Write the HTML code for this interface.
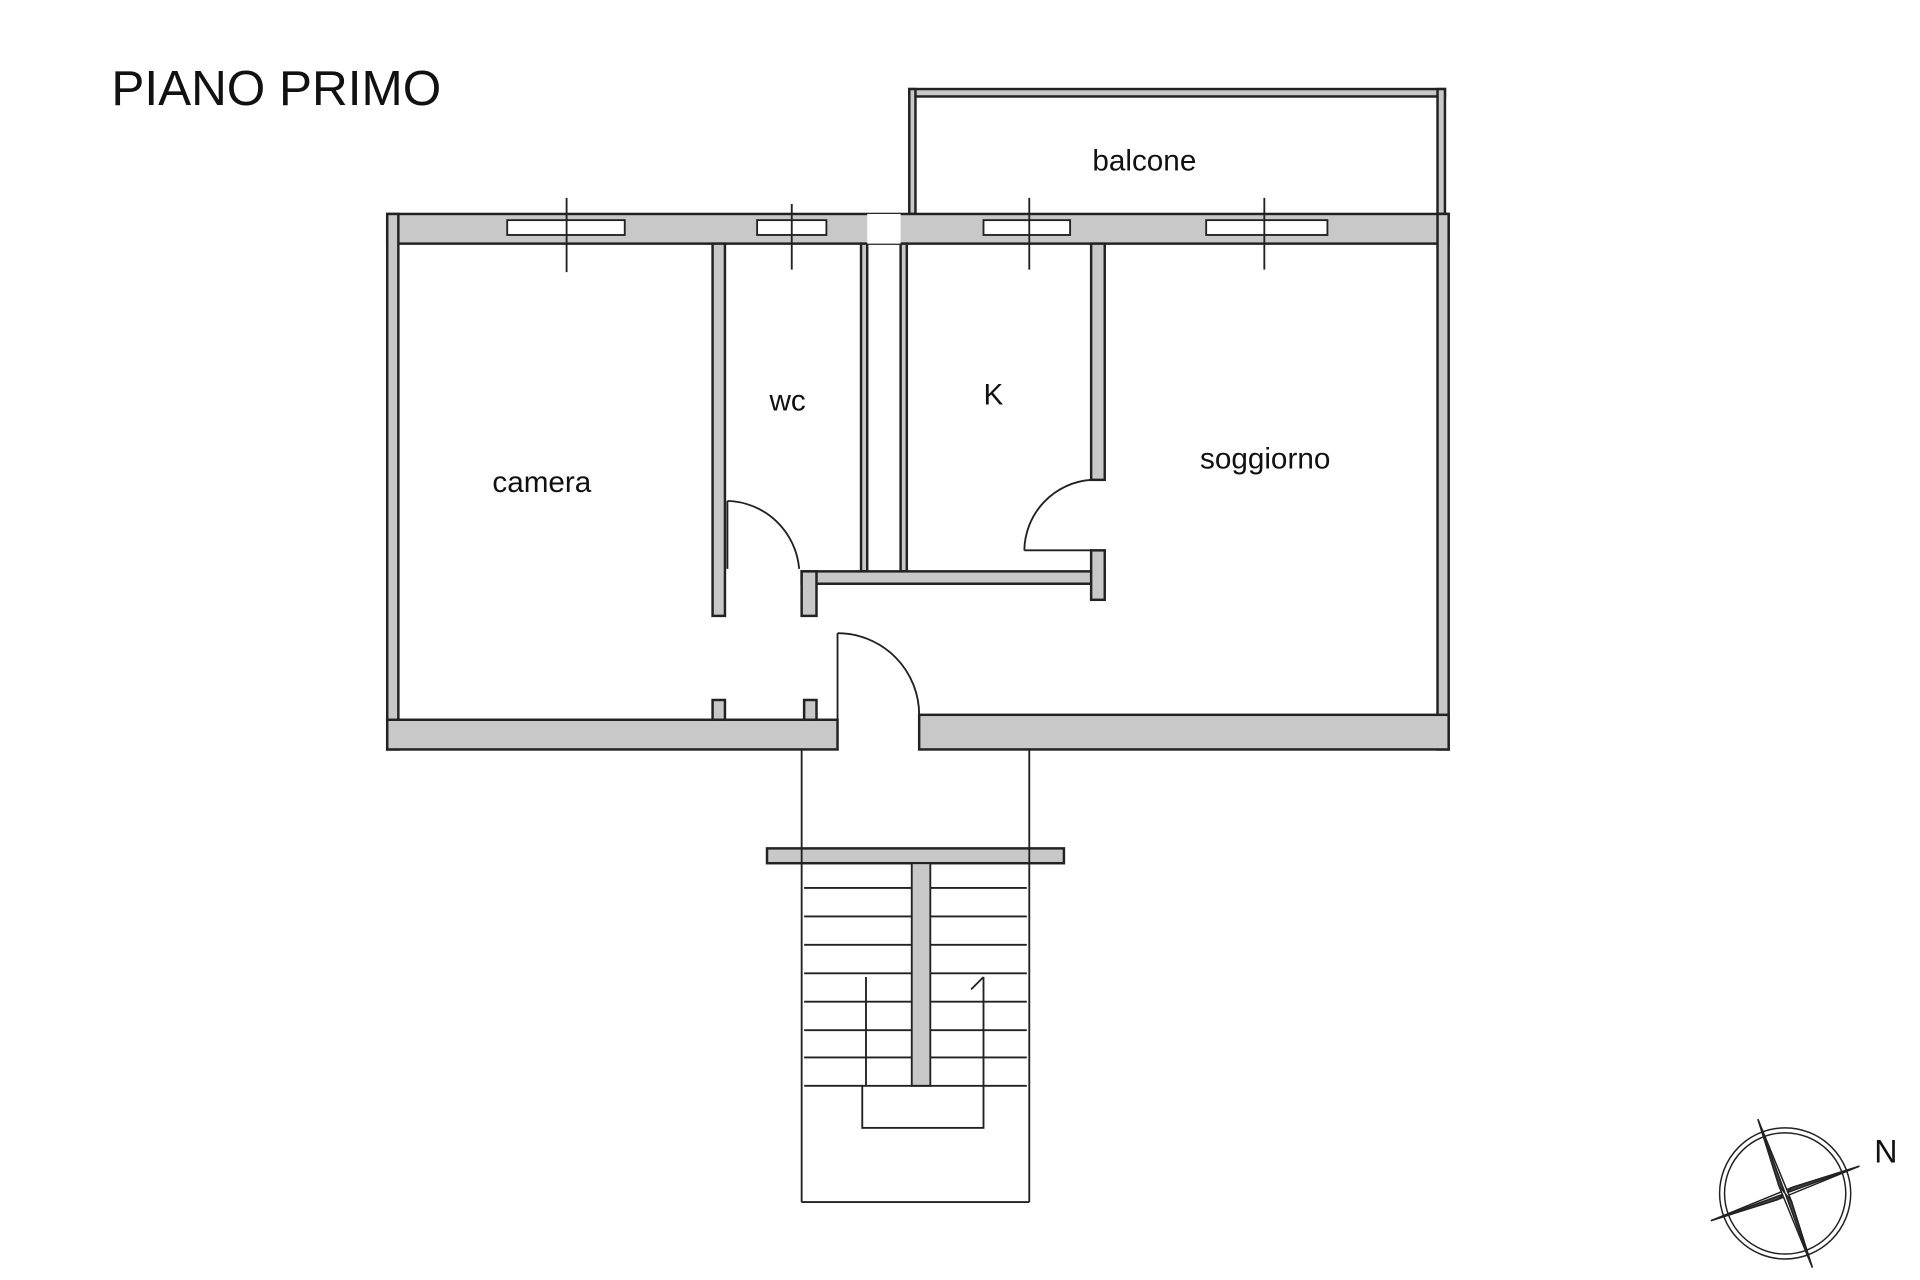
<!DOCTYPE html>
<html><head><meta charset="utf-8"><style>
html,body{margin:0;padding:0;background:#fff;}
svg{display:block;}
text{font-family:"Liberation Sans",sans-serif;fill:#111;}
</style></head><body>
<svg width="1920" height="1280" viewBox="0 0 1552 1035" preserveAspectRatio="none" xmlns="http://www.w3.org/2000/svg">
<rect width="1552" height="1035" fill="#fff"/>
<text x="90" y="85" font-size="40">PIANO PRIMO</text>
<g fill="#c8c8c8" stroke="#222" stroke-width="2">
<rect x="735" y="72" width="433" height="6"/>
<rect x="735" y="72" width="5" height="101"/>
<rect x="1162" y="72" width="6" height="101"/>
<rect x="313" y="173" width="858" height="24"/>
<rect x="313" y="173" width="9" height="433"/>
<rect x="1162" y="173" width="9" height="433"/>
<rect x="313" y="582" width="364" height="24"/>
<rect x="743" y="578" width="428" height="28"/>
<rect x="576" y="197" width="10" height="301"/>
<rect x="696" y="197" width="5" height="265"/>
<rect x="728" y="197" width="5" height="265"/>
<rect x="648" y="462" width="245" height="10"/>
<rect x="882" y="197" width="11" height="191"/>
<rect x="882" y="445" width="11" height="40"/>
<rect x="648" y="462" width="12" height="36"/>
<rect x="576" y="566" width="10" height="16"/>
<rect x="650" y="566" width="10" height="16"/>
<rect x="620" y="686" width="240" height="12"/>
</g>
<g fill="#fff" stroke="#222" stroke-width="1.5">
<rect x="410" y="178" width="95" height="12"/>
<rect x="612" y="178" width="56" height="12"/>
<rect x="795" y="178" width="70" height="12"/>
<rect x="975" y="178" width="98" height="12"/>
<rect x="701" y="173" width="27" height="24" stroke="none"/>
</g>
<g stroke="#222" stroke-width="1.5" fill="none">
<line x1="458" y1="160" x2="458" y2="220"/>
<line x1="640" y1="165" x2="640" y2="218"/>
<line x1="832" y1="160" x2="832" y2="218"/>
<line x1="1022" y1="160" x2="1022" y2="218"/>
<line x1="588" y1="405" x2="588" y2="460"/>
<path d="M588 405 A60 60 0 0 1 646 460"/>
<line x1="828" y1="445" x2="882" y2="445"/>
<path d="M828 445 A58 58 0 0 1 882 388"/>
<line x1="677" y1="512" x2="677" y2="600"/>
<path d="M677 512 A66 66 0 0 1 743 578"/>
<line x1="648" y1="606" x2="648" y2="972"/>
<line x1="832" y1="606" x2="832" y2="972"/>
<line x1="648" y1="972" x2="832" y2="972"/>
<rect x="737" y="698" width="15" height="180" fill="#c8c8c8"/>
<rect x="697" y="878" width="98" height="34"/>
<path d="M650 718H737M650 741H737M650 764H737M650 787H737M650 810H737M650 833H737M650 855H737M650 878H697"/>
<path d="M752 718H830M752 741H830M752 764H830M752 787H830M752 810H830M752 833H830M752 855H830M795 878H830"/>
<path d="M700 790V878M795 790V878M785 800L795 790"/>
</g>
<text x="883" y="138" font-size="24">balcone</text>
<text x="622" y="332" font-size="24">wc</text>
<text x="795" y="327" font-size="24">K</text>
<text x="398" y="398" font-size="24">camera</text>
<text x="970" y="379" font-size="24">soggiorno</text>
<g transform="translate(1443,965)" stroke="#222" stroke-width="1.2">
<circle r="53" fill="none"/><circle r="49" fill="none"/>
<polygon points="60,-22 6,-5 -60,22 -6,5" fill="#fff"/>
<polygon points="60,-22 6,-5 0,0" fill="#444"/>
<polygon points="-60,22 -6,5 0,0" fill="#444"/>
<polygon points="-22,-60 -5,-6 22,60 5,6" fill="#fff"/>
<polygon points="-22,-60 -5,-6 0,0" fill="#444"/>
<polygon points="22,60 5,6 0,0" fill="#444"/>
</g>
<text x="1515" y="940" font-size="26">N</text>
</svg>
</body></html>
